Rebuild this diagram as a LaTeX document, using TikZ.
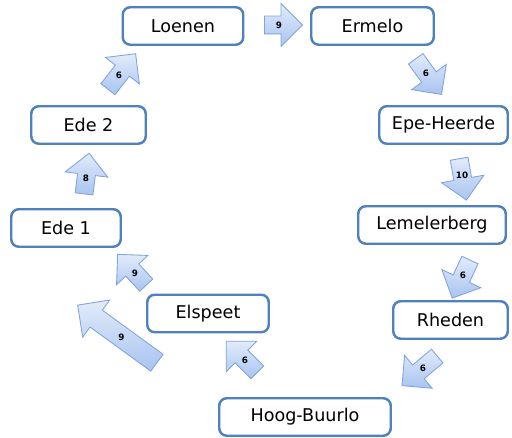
\documentclass[tikz,border=0pt]{standalone}
\usepackage{fontspec}
\setmainfont{DejaVu Sans}
\usetikzlibrary{shapes.arrows}

\definecolor{boxline}{RGB}{79,129,189}
\definecolor{arrowline}{RGB}{130,164,222}
\definecolor{arrowlight}{RGB}{226,235,250}
\definecolor{arrowdark}{RGB}{168,196,240}

\tikzset{
  stop/.style={draw=boxline, line width=1.4pt, fill=white, rounded corners=0.15cm,
    minimum height=0.75cm, minimum width=#1, font=\fontsize{10}{12}\selectfont},
  barrow/.style={single arrow, draw=arrowline, line width=0.5pt,
    top color=arrowlight, bottom color=arrowdark, inner xsep=0pt, inner ysep=0.17cm,
    minimum width=0.66cm, minimum height=#1},
  weight/.style={font=\fontsize{5}{6}\selectfont\bfseries}
}

\begin{document}
\begin{tikzpicture}
    \useasboundingbox (0,0) rectangle (10.24,-8.76);

    % stops
    \node[stop=2.41cm] (loenen) at (3.66,-0.52) {Loenen};
    \node[stop=2.45cm] (ermelo) at (7.45,-0.52) {Ermelo};
    \node[stop=2.57cm] (epe) at (8.87,-2.50) {Epe-Heerde};
    \node[stop=2.95cm] (lemel) at (8.64,-4.50) {Lemelerberg};
    \node[stop=2.29cm] (rheden) at (9.01,-6.40) {Rheden};
    \node[stop=3.43cm] (hoog) at (6.10,-8.34) {Hoog-Buurlo};
    \node[stop=2.43cm] (elspeet) at (4.16,-6.27) {Elspeet};
    \node[stop=2.19cm] (ede1) at (1.32,-4.56) {Ede 1};
    \node[stop=2.29cm] (ede2) at (1.77,-2.50) {Ede 2};

    % block arrows
    \node[barrow=0.76cm] (a1) at (5.58,-0.50) {};
    \node[barrow=0.88cm, rotate=-54] (a2) at (8.52,-1.46) {};
    \node[barrow=0.84cm, rotate=-80] (a3) at (9.24,-3.50) {};
    \node[barrow=0.84cm, rotate=-115] (a4) at (9.26,-5.50) {};
    \node[barrow=0.92cm, rotate=-140] (a5) at (8.46,-7.36) {};
    \node[barrow=0.88cm, rotate=135] (a6) at (4.90,-7.20) {};
    \node[barrow=0.84cm, rotate=133] (a7) at (2.70,-5.46) {};
    \node[barrow=0.82cm, rotate=83] (a8) at (1.72,-3.56) {};
    \node[barrow=0.90cm, rotate=52] (a9) at (2.38,-1.50) {};
    \node[barrow=1.96cm, rotate=144, inner ysep=0.2cm] (a10) at (2.43,-6.74) {};

    % weights
    \node[weight] (w1) at (a1) {9};
    \node[weight] (w2) at (a2) {6};
    \node[weight] (w3) at (a3) {10};
    \node[weight] (w4) at (a4) {6};
    \node[weight] (w5) at (a5) {6};
    \node[weight] (w6) at (a6) {6};
    \node[weight] (w7) at (a7) {9};
    \node[weight] (w8) at (a8) {8};
    \node[weight] (w9) at (a9) {6};
    \node[weight] (w10) at (a10) {9};

\end{tikzpicture}
\end{document}
